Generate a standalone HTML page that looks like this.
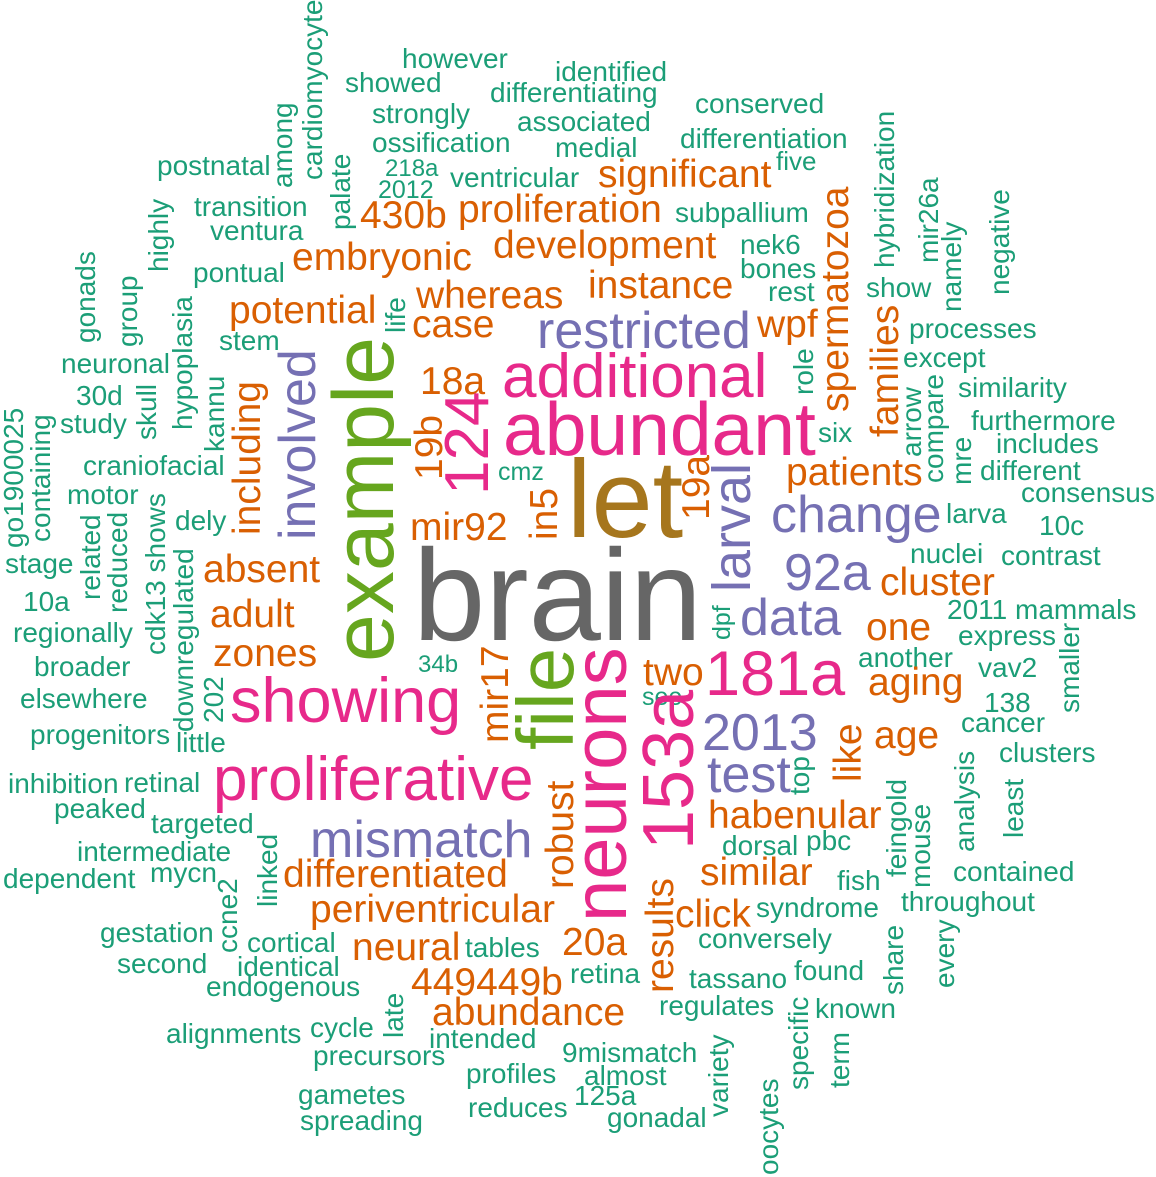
<!DOCTYPE html>
<html><head><meta charset="utf-8"><style>
html,body{margin:0;padding:0;background:#fff}
svg{display:block}
text{font-family:"Liberation Sans",Arial,sans-serif}
.g{fill:#1b9e77;font-size:28px}
.o{fill:#d95f02;font-size:39px}
.p{fill:#7570b3;font-size:52px}
.k{fill:#e7298a}
.l{fill:#66a61e}
</style></head><body>
<svg width="1156" height="1177" xmlns="http://www.w3.org/2000/svg">
<g class="g">
<text x="402" y="68">however</text>
<text x="345" y="92">showed</text>
<text x="555" y="81">identified</text>
<text x="490" y="102">differentiating</text>
<text x="372" y="123">strongly</text>
<text x="517" y="131">associated</text>
<text x="695" y="113">conserved</text>
<text x="372" y="152">ossification</text>
<text x="555" y="157">medial</text>
<text x="680" y="148">differentiation</text>
<text x="385" y="176" style="font-size:24px">218a</text>
<text x="378" y="198" style="font-size:25px">2012</text>
<text x="450" y="187">ventricular</text>
<text x="776" y="170" style="font-size:26px">five</text>
<text x="675" y="222">subpallium</text>
<text x="740" y="254">nek6</text>
<text x="740" y="278">bones</text>
<text x="768" y="301">rest</text>
<text x="157" y="175">postnatal</text>
<text x="194" y="216">transition</text>
<text x="210" y="240">ventura</text>
<text x="193" y="282">pontual</text>
<text x="219" y="350">stem</text>
<text x="61" y="373">neuronal</text>
<text x="909" y="338">processes</text>
<text x="903" y="367">except</text>
<text x="958" y="397">similarity</text>
<text x="866" y="297">show</text>
<text x="76" y="405">30d</text>
<text x="60" y="433">study</text>
<text x="83" y="475">craniofacial</text>
<text x="67" y="504">motor</text>
<text x="175" y="530">dely</text>
<text x="5" y="573">stage</text>
<text x="23" y="611">10a</text>
<text x="13" y="642">regionally</text>
<text x="34" y="676">broader</text>
<text x="20" y="708">elsewhere</text>
<text x="30" y="744">progenitors</text>
<text x="176" y="752">little</text>
<text x="498" y="480" style="font-size:25px">cmz</text>
<text x="418" y="672" style="font-size:24px">34b</text>
<text x="642" y="705" style="font-size:25px">see</text>
<text x="818" y="442">six</text>
<text x="971" y="430">furthermore</text>
<text x="996" y="453">includes</text>
<text x="980" y="480">different</text>
<text x="1021" y="502">consensus</text>
<text x="946" y="523">larva</text>
<text x="1039" y="535">10c</text>
<text x="910" y="563">nuclei</text>
<text x="1001" y="565">contrast</text>
<text x="947" y="619">2011 mammals</text>
<text x="958" y="645">express</text>
<text x="858" y="667">another</text>
<text x="978" y="677">vav2</text>
<text x="984" y="712">138</text>
<text x="961" y="732">cancer</text>
<text x="999" y="762">clusters</text>
<text x="8" y="793">inhibition</text>
<text x="124" y="792">retinal</text>
<text x="54" y="818">peaked</text>
<text x="151" y="833">targeted</text>
<text x="77" y="861">intermediate</text>
<text x="3" y="888">dependent</text>
<text x="150" y="882">mycn</text>
<text x="100" y="942">gestation</text>
<text x="247" y="952">cortical</text>
<text x="117" y="973">second</text>
<text x="237" y="976">identical</text>
<text x="206" y="996">endogenous</text>
<text x="166" y="1043">alignments</text>
<text x="310" y="1037">cycle</text>
<text x="313" y="1065">precursors</text>
<text x="298" y="1104">gametes</text>
<text x="300" y="1130">spreading</text>
<text x="722" y="855">dorsal</text>
<text x="756" y="917">syndrome</text>
<text x="698" y="948">conversely</text>
<text x="465" y="957">tables</text>
<text x="570" y="983">retina</text>
<text x="689" y="988">tassano</text>
<text x="659" y="1015">regulates</text>
<text x="429" y="1048">intended</text>
<text x="562" y="1062">9mismatch</text>
<text x="466" y="1083">profiles</text>
<text x="584" y="1085">almost</text>
<text x="574" y="1105">125a</text>
<text x="468" y="1117">reduces</text>
<text x="607" y="1127">gonadal</text>
<text x="806" y="850">pbc</text>
<text x="953" y="881">contained</text>
<text x="837" y="890">fish</text>
<text x="901" y="911">throughout</text>
<text x="794" y="980">found</text>
<text x="815" y="1018">known</text>

<text x="322" y="180" transform="rotate(-90 322 180)">cardiomyocyte</text>
<text x="292" y="188" transform="rotate(-90 292 188)">among</text>
<text x="350" y="230" transform="rotate(-90 350 230)">palate</text>
<text x="168" y="272" transform="rotate(-90 168 272)">highly</text>
<text x="95" y="343" transform="rotate(-90 95 343)">gonads</text>
<text x="137" y="347" transform="rotate(-90 137 347)">group</text>
<text x="192" y="430" transform="rotate(-90 192 430)">hypoplasia</text>
<text x="405" y="333" transform="rotate(-90 405 333)">life</text>
<text x="224" y="452" transform="rotate(-90 224 452)">kannu</text>
<text x="156" y="440" transform="rotate(-90 156 440)">skull</text>
<text x="23" y="548" transform="rotate(-90 23 548)">go1900025</text>
<text x="50" y="542" transform="rotate(-90 50 542)">containing</text>
<text x="100" y="600" transform="rotate(-90 100 600)">related</text>
<text x="127" y="613" transform="rotate(-90 127 613)">reduced</text>
<text x="165" y="655" transform="rotate(-90 165 655)">cdk13 shows</text>
<text x="193" y="732" transform="rotate(-90 193 732)">downregulated</text>
<text x="223" y="723" transform="rotate(-90 223 723)">202</text>
<text x="894" y="268" transform="rotate(-90 894 268)">hybridization</text>
<text x="938" y="263" transform="rotate(-90 938 263)">mir26a</text>
<text x="961" y="312" transform="rotate(-90 961 312)">namely</text>
<text x="1009" y="295" transform="rotate(-90 1009 295)">negative</text>
<text x="813" y="395" transform="rotate(-90 813 395)">role</text>
<text x="921" y="457" transform="rotate(-90 921 457)">arrow</text>
<text x="943" y="483" transform="rotate(-90 943 483)">compare</text>
<text x="971" y="485" transform="rotate(-90 971 485)">mre</text>
<text x="730" y="640" transform="rotate(-90 730 640)" style="font-size:25px">dpf</text>
<text x="1079" y="713" transform="rotate(-90 1079 713)">smaller</text>
<text x="809" y="795" transform="rotate(-90 809 795)">top</text>
<text x="974" y="852" transform="rotate(-90 974 852)">analysis</text>
<text x="1023" y="838" transform="rotate(-90 1023 838)">least</text>
<text x="906" y="877" transform="rotate(-90 906 877)">feingold</text>
<text x="930" y="888" transform="rotate(-90 930 888)">mouse</text>
<text x="903" y="995" transform="rotate(-90 903 995)">share</text>
<text x="954" y="988" transform="rotate(-90 954 988)">every</text>
<text x="808" y="1090" transform="rotate(-90 808 1090)">specific</text>
<text x="849" y="1088" transform="rotate(-90 849 1088)">term</text>
<text x="277" y="907" transform="rotate(-90 277 907)">linked</text>
<text x="237" y="953" transform="rotate(-90 237 953)">ccne2</text>
<text x="403" y="1038" transform="rotate(-90 403 1038)">late</text>
<text x="728" y="1117" transform="rotate(-90 728 1117)">variety</text>
<text x="778" y="1175" transform="rotate(-90 778 1175)">oocytes</text>
</g>
<g class="o">
<text x="598" y="187">significant</text>
<text x="360" y="228">430b</text>
<text x="458" y="222">proliferation</text>
<text x="493" y="258">development</text>
<text x="292" y="270">embryonic</text>
<text x="588" y="298">instance</text>
<text x="416" y="308">whereas</text>
<text x="412" y="337">case</text>
<text x="757" y="337">wpf</text>
<text x="229" y="323">potential</text>
<text x="420" y="394">18a</text>
<text x="410" y="540">mir92</text>
<text x="786" y="485">patients</text>
<text x="880" y="595">cluster</text>
<text x="866" y="640">one</text>
<text x="868" y="695">aging</text>
<text x="874" y="748">age</text>
<text x="203" y="582">absent</text>
<text x="210" y="627">adult</text>
<text x="213" y="666">zones</text>
<text x="643" y="685">two</text>
<text x="708" y="828">habenular</text>
<text x="283" y="887">differentiated</text>
<text x="310" y="922">periventricular</text>
<text x="700" y="885">similar</text>
<text x="675" y="927">click</text>
<text x="352" y="960">neural</text>
<text x="562" y="955">20a</text>
<text x="411" y="995">449449b</text>
<text x="432" y="1025">abundance</text>
<text x="848" y="412" transform="rotate(-90 848 412)">spermatozoa</text>
<text x="898" y="437" transform="rotate(-90 898 437)">families</text>
<text x="260" y="535" transform="rotate(-90 260 535)">including</text>
<text x="442" y="480" transform="rotate(-90 442 480)">19b</text>
<text x="557" y="540" transform="rotate(-90 557 540)">in5</text>
<text x="709" y="520" transform="rotate(-90 709 520)">19a</text>
<text x="508" y="743" transform="rotate(-90 508 743)">mir17</text>
<text x="573" y="889" transform="rotate(-90 573 889)">robust</text>
<text x="673" y="993" transform="rotate(-90 673 993)">results</text>
<text x="861" y="782" transform="rotate(-90 861 782)">like</text>
</g>
<g class="p">
<text x="537" y="348">restricted</text>
<text x="771" y="532">change</text>
<text x="784" y="590">92a</text>
<text x="740" y="635">data</text>
<text x="702" y="750">2013</text>
<text x="707" y="792">test</text>
<text x="310" y="857">mismatch</text>
<text x="315" y="540" transform="rotate(-90 315 540)">involved</text>
<text x="750" y="592" transform="rotate(-90 750 592)" style="font-size:54px">larval</text>
</g>
<g class="k">
<text x="502" y="397" style="font-size:62px">additional</text>
<text x="503" y="455" style="font-size:75px">abundant</text>
<text x="230" y="722" style="font-size:63px">showing</text>
<text x="705" y="695" style="font-size:63px">181a</text>
<text x="213" y="800" style="font-size:62px">proliferative</text>
<text x="488" y="495" transform="rotate(-90 488 495)" style="font-size:62px">124</text>
<text x="626" y="922" transform="rotate(-90 626 922)" style="font-size:76px">neurons</text>
<text x="693" y="850" transform="rotate(-90 693 850)" style="font-size:72px">153a</text>
</g>
<g class="l">
<text x="393" y="662" transform="rotate(-90 393 662)" style="font-size:86px">example</text>
<text x="573" y="750" transform="rotate(-90 573 750)" style="font-size:80px">file</text>
</g>
<text x="567" y="537" style="font-size:110px;fill:#a6761d">let</text>
<text x="413" y="640" style="font-size:130px;fill:#666666">brain</text>
</svg>
</body></html>
